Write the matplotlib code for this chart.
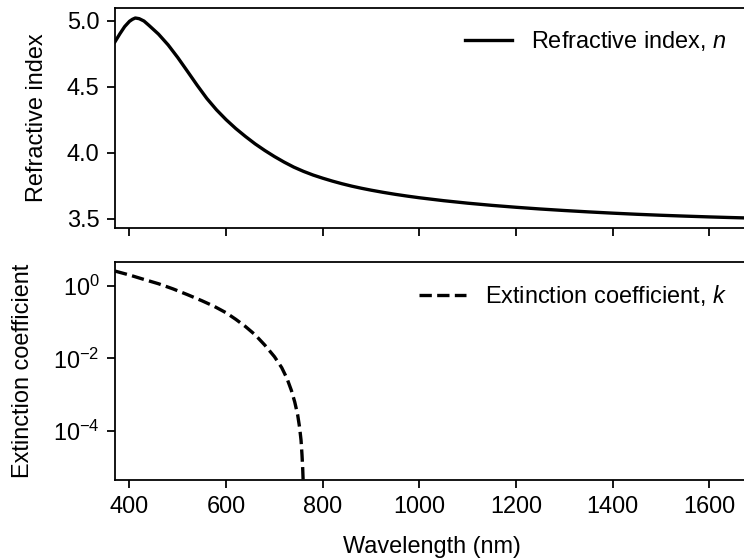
#!/usr/bin/env python3

import matplotlib
matplotlib.use('Agg')
import matplotlib.pyplot as plt

# Values
wl_n = [370, 380, 390, 400, 406, 412, 420, 430, 440, 460, 480, 500, 520, 540,
        560, 580, 600, 620, 640, 660, 680, 700, 720, 740, 760, 780, 800, 820,
        840, 860, 880, 900, 925, 950, 975, 1000, 1050, 1100, 1150, 1200, 1250,
        1300, 1350, 1400, 1450, 1500, 1550, 1600, 1640, 1680]
n = [4.84, 4.90, 4.955, 4.995, 5.01, 5.02, 5.015, 4.997, 4.965, 4.898, 4.816,
     4.72, 4.616, 4.511, 4.411, 4.325, 4.25, 4.183, 4.123, 4.067, 4.017,
     3.971, 3.929, 3.891, 3.859, 3.831, 3.807, 3.785, 3.765, 3.747, 3.731,
     3.7165, 3.700, 3.685, 3.6715, 3.659, 3.637, 3.618, 3.6015, 3.587, 3.574,
     3.5625, 3.552, 3.5425, 3.534, 3.5265, 3.520, 3.514, 3.5097, 3.5058]

wl_k = [370, 400, 430, 460, 490, 520, 550, 575, 600, 620, 640, 660, 680, 700,
        715, 726, 735, 742, 748, 752, 755, 757, 758.5, 760]
k = [2.57, 2.0, 1.51, 1.15, 0.83, 0.575, 0.39, 0.275, 0.182, 0.12, 0.076,
     0.045, 0.0234, 0.0112, 0.0056, 0.0028, 0.00132, 6.3e-4, 2.8e-4, 1.26e-4,
     5.6e-5, 2.2e-5, 8.9e-6, 2.5e-6]

plt.rcParams['font.family'] = ['Liberation Sans', 'DejaVu Sans']
plt.rcParams['font.size'] = 10.6
plt.rcParams['axes.labelpad'] = 8.5
plt.rcParams['mathtext.fontset'] = 'custom'
plt.rcParams['mathtext.rm'] = 'Liberation Sans'
plt.rcParams['mathtext.it'] = 'Liberation Sans:italic'
plt.rcParams['mathtext.bf'] = 'Liberation Sans:bold'

W, H = 744, 560
fig = plt.figure(figsize=(4.65, 3.5), dpi=160)

left, right = 115 / W, 748 / W
ax1 = fig.add_axes([left, 1 - 228 / H, right - left, (228 - 8) / H])
ax2 = fig.add_axes([left, 1 - 480 / H, right - left, (480 - 262) / H], sharex=ax1)

ax1.plot(wl_n, n, color='black', linestyle='-', label='Refractive index, $n$')
ax1.set_ylabel('Refractive index')
ax1.set_yticks([3.5, 4.0, 4.5, 5.0])
ax1.tick_params(labelbottom=False)
ax1.legend(loc='upper right', frameon=False)

ax2.plot(wl_k, k, color='black', linestyle='--', label='Extinction coefficient, $k$')
ax2.set_yscale('log')
ax2.set_ylim(10 ** -5.35, 10 ** 0.66)
ax2.set_yticks([1e-4, 1e-2, 1e0])
ax2.minorticks_off()
ax2.set_ylabel('Extinction coefficient')
ax2.set_xlabel('Wavelength (nm)')
ax2.set_xlim(370, 1680)
ax2.set_xticks([400, 600, 800, 1000, 1200, 1400, 1600])
ax2.legend(loc='upper right', frameon=False)

fig.savefig('out.png', dpi=160)
